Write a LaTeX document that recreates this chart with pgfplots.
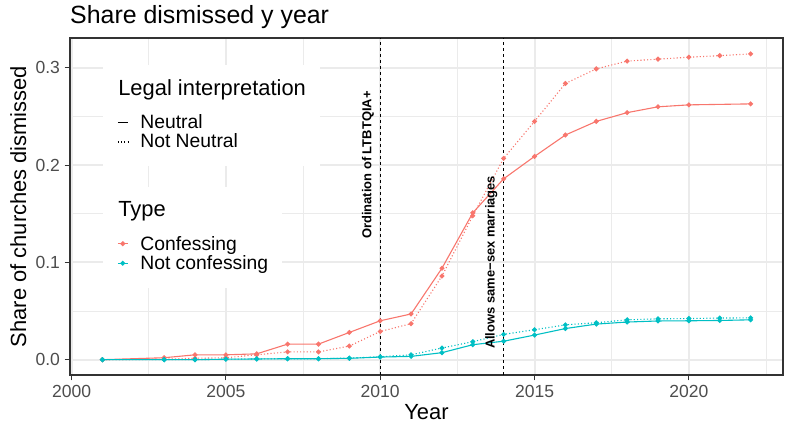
\documentclass[border=0pt]{standalone}
\usepackage{fontspec}
\setmainfont{Liberation Sans}
\usepackage{pgfplots}
\pgfplotsset{compat=1.18}
\definecolor{cred}{HTML}{F8766D}
\definecolor{cteal}{HTML}{00BFC4}
\definecolor{gridc}{HTML}{EBEBEB}
\definecolor{grayxx}{HTML}{333333}
\definecolor{grayyy}{HTML}{4D4D4D}
\pgfplotsset{
  basegeom/.style={at={(70bp,56bp)}, anchor=south west, scale only axis,
    width=713bp, height=337bp, xmin=1999.95, xmax=2023.05, ymin=-0.01575, ymax=0.33075},
  legbox/.style={legend style={anchor=north west, fill=white, draw=none,
    inner xsep=14bp, inner ysep=13bp, row sep=0pt, column sep=12bp,
    font=\fontsize{19.4}{23}\selectfont, cells={anchor=base west},
    nodes={inner sep=0pt, text depth=}}},
  ser/.style={line width=1.1bp, mark=*, mark size=1.9bp, mark options={solid}},
  dotl/.style={dash pattern=on 1.1bp off 2.2bp},
  shortline/.style={legend image code/.code={\draw[##1] (0bp,6bp) -- (10bp,6bp);}},
  shortmark/.style={legend image code/.code={\draw[mark repeat=2, mark phase=2, ##1] plot coordinates {(0bp,6.5bp) (5bp,6.5bp) (10bp,6.5bp)};}},
}
\begin{document}
\begin{tikzpicture}
\useasboundingbox (0,0) rectangle (787bp,431bp);
\begin{axis}[basegeom, legbox,
  legend style={at={(0.0463,0.9199)}},
  xtick={2000,2005,2010,2015,2020},
  minor xtick={2002.5,2007.5,2012.5,2017.5,2022.5},
  ytick={0,0.1,0.2,0.3}, minor ytick={0.05,0.15,0.25},
  grid=both, major grid style={gridc, line width=2bp}, minor grid style={gridc, line width=1bp},
  axis line style={grayxx, line width=1.2bp},
  tick align=outside, major tick length=5.5bp, minor tick length=0pt,
  xtick pos=left, ytick pos=left,
  every tick/.style={grayxx, line width=1.1bp},
  tick label style={font=\fontsize{17.6}{20}\selectfont, text=grayyy, inner sep=0pt},
  xticklabel shift=4.4bp, yticklabel shift=4.4bp,
  /pgf/number format/assume math mode=true,
  /pgf/number format/1000 sep={},
  yticklabel style={/pgf/number format/.cd, fixed, fixed zerofill, precision=1},
  every axis title shift=0pt,
  title={Share dismissed y year},
  title style={at={(axis description cs:0,1.0445)}, anchor=base west, font=\fontsize{25}{30}\selectfont, inner sep=0pt},
  xlabel={Year},
  xlabel style={at={(axis description cs:0.5,-0.1335)}, anchor=base, font=\fontsize{22}{26}\selectfont, inner sep=0pt},
  ylabel={Share of churches dismissed},
  ylabel style={at={(axis description cs:-0.0617,0.5)}, anchor=base, font=\fontsize{22}{26}\selectfont, inner sep=0pt},
]
% Confessing, Neutral
\addplot[forget plot, cred, ser] coordinates {
 (2001,0) (2003,0.002) (2004,0.005) (2005,0.005) (2006,0.006) (2007,0.016) (2008,0.016)
 (2009,0.028) (2010,0.040) (2011,0.047) (2012,0.094) (2013,0.151) (2014,0.186) (2015,0.209)
 (2016,0.231) (2017,0.245) (2018,0.254) (2019,0.260) (2020,0.262) (2022,0.263)};
% Confessing, Not Neutral
\addplot[forget plot, cred, ser, dotl] coordinates {
 (2001,0) (2003,0.0005) (2004,0.0015) (2005,0.002) (2006,0.005) (2007,0.008) (2008,0.008)
 (2009,0.014) (2010,0.029) (2011,0.037) (2012,0.086) (2013,0.148) (2014,0.207) (2015,0.245)
 (2016,0.284) (2017,0.299) (2018,0.307) (2019,0.309) (2020,0.311) (2021,0.3126) (2022,0.3144)};
% Not confessing, Neutral
\addplot[forget plot, cteal, ser] coordinates {
 (2001,0) (2003,0) (2004,0) (2005,0.0005) (2006,0.0007) (2007,0.001) (2008,0.001)
 (2009,0.0014) (2010,0.0027) (2011,0.0034) (2012,0.0072) (2013,0.0154) (2014,0.019) (2015,0.0253)
 (2016,0.032) (2017,0.0366) (2018,0.0387) (2019,0.0398) (2020,0.040) (2021,0.0403) (2022,0.041)};
% Not confessing, Not Neutral
\addplot[forget plot, cteal, ser, dotl] coordinates {
 (2001,0) (2003,0) (2004,0) (2005,0.0005) (2006,0.0008) (2007,0.001) (2008,0.001)
 (2009,0.0016) (2010,0.003) (2011,0.005) (2012,0.012) (2013,0.0185) (2014,0.026) (2015,0.0308)
 (2016,0.0358) (2017,0.038) (2018,0.041) (2019,0.042) (2020,0.0423) (2021,0.0428) (2022,0.043)};
% vertical lines
\addplot[forget plot, black, line width=0.8bp, dash pattern=on 3bp off 3bp] coordinates {(2010,-0.01575) (2010,0.33075)};
\addplot[forget plot, black, line width=0.8bp, dash pattern=on 3bp off 3bp] coordinates {(2014,-0.01575) (2014,0.33075)};
\node[rotate=90, font=\bfseries\fontsize{13}{15}\selectfont, inner sep=0pt] at (axis cs:2009.6,0.2) {Ordination of LTBTQIA+};
\node[rotate=90, font=\bfseries\fontsize{13}{15}\selectfont, inner sep=0pt] at (axis cs:2013.6,0.1) {Allows same−sex marriages};
% legend: Legal interpretation
\addlegendimage{empty legend}
\addlegendentry{\hspace*{-22bp}\fontsize{22}{26}\selectfont Legal interpretation\rule[-19.3bp]{0pt}{36.3bp}}
\addlegendimage{black, line width=1.1bp, shortline}
\addlegendentry{Neutral\rule[-5.5bp]{0pt}{18.5bp}}
\addlegendimage{black, line width=1.1bp, dotl, shortline}
\addlegendentry{Not Neutral\rule[-5.5bp]{0pt}{18.5bp}}
\end{axis}
\begin{axis}[basegeom, hide axis, legbox, legend style={at={(0.0463,0.5588)}}]
\addlegendimage{empty legend}
\addlegendentry{\hspace*{-22bp}\fontsize{22}{26}\selectfont Type\rule[-19.3bp]{0pt}{36.3bp}}
\addlegendimage{cred, ser, shortmark}
\addlegendentry{Confessing\rule[-5.5bp]{0pt}{18.5bp}}
\addlegendimage{cteal, ser, shortmark}
\addlegendentry{Not confessing\rule[-5.5bp]{0pt}{18.5bp}}
\end{axis}
\end{tikzpicture}
\end{document}
